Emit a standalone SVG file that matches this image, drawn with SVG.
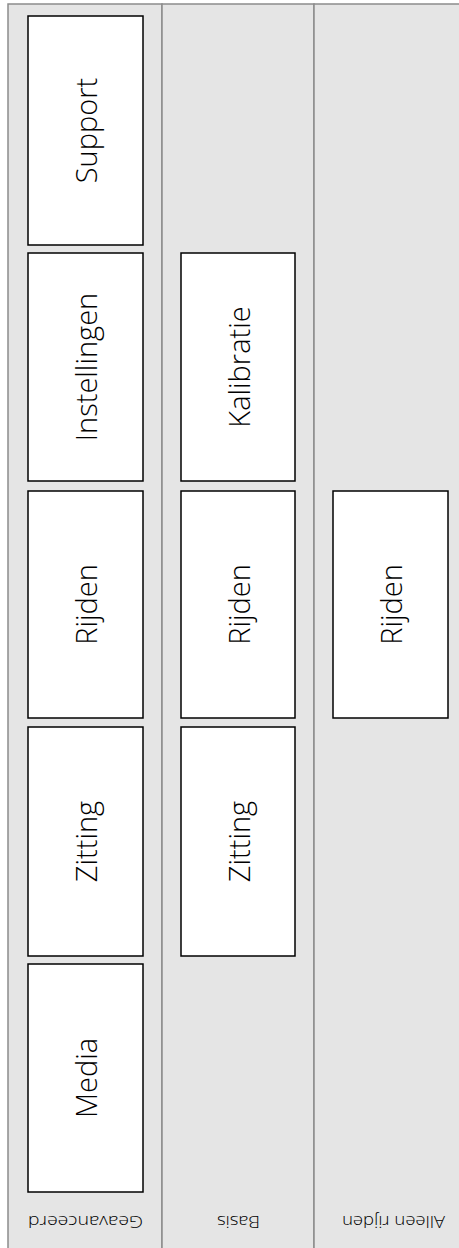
<svg xmlns="http://www.w3.org/2000/svg" width="459" height="1248" viewBox="0 0 459 1248">
<style>
.lane{fill:#e5e5e5;stroke:#8c8c8c;stroke-width:1.5}
.node rect{fill:#ffffff;stroke:#000000;stroke-width:1.5}
.node text{font-family:"Open Sans","Liberation Sans",sans-serif;font-size:29px;font-weight:300;fill:#000000;text-anchor:middle;dominant-baseline:central}
.lbl{font-family:"Open Sans","Liberation Sans",sans-serif;font-size:17px;font-weight:300;fill:#000000;text-anchor:middle;dominant-baseline:central}
</style>
<g id="lanes">
<rect class="lane" x="8" y="4" width="154" height="1250"/>
<rect class="lane" x="162" y="4" width="152" height="1250"/>
<rect class="lane" x="314" y="4" width="152" height="1250"/>
<text class="lbl" transform="rotate(180 85.5 1222.5)" x="85.5" y="1222.5" textLength="115" lengthAdjust="spacingAndGlyphs">Geavanceerd</text>
<text class="lbl" transform="rotate(180 238.5 1222.5)" x="238.5" y="1222.5" textLength="43" lengthAdjust="spacingAndGlyphs">Basis</text>
<text class="lbl" transform="rotate(180 393.5 1222.5)" x="393.5" y="1222.5" textLength="103" lengthAdjust="spacingAndGlyphs">Alleen rijden</text>
</g>
<g id="connectors"></g>
<g id="g-support" class="node"><rect x="28" y="16" width="115" height="229"/><text transform="rotate(-90 85.5 130.5)" x="85.5" y="130.5">Support</text></g>
<g id="g-instellingen" class="node"><rect x="28" y="253" width="115" height="228"/><text transform="rotate(-90 85.5 367)" x="85.5" y="367">Instellingen</text></g>
<g id="g-rijden" class="node"><rect x="28" y="491" width="115" height="227"/><text transform="rotate(-90 85.5 604.5)" x="85.5" y="604.5">Rijden</text></g>
<g id="g-zitting" class="node"><rect x="28" y="727" width="115" height="229"/><text transform="rotate(-90 85.5 841.5)" x="85.5" y="841.5">Zitting</text></g>
<g id="g-media" class="node"><rect x="28" y="964" width="115" height="228"/><text transform="rotate(-90 85.5 1078)" x="85.5" y="1078">Media</text></g>
<g id="b-kalibratie" class="node"><rect x="181" y="253" width="114" height="228"/><text transform="rotate(-90 238 367)" x="238" y="367">Kalibratie</text></g>
<g id="b-rijden" class="node"><rect x="181" y="491" width="114" height="227"/><text transform="rotate(-90 238 604.5)" x="238" y="604.5">Rijden</text></g>
<g id="b-zitting" class="node"><rect x="181" y="727" width="114" height="229"/><text transform="rotate(-90 238 841.5)" x="238" y="841.5">Zitting</text></g>
<g id="a-rijden" class="node"><rect x="333" y="491" width="115" height="227"/><text transform="rotate(-90 390.5 604.5)" x="390.5" y="604.5">Rijden</text></g>
</svg>
